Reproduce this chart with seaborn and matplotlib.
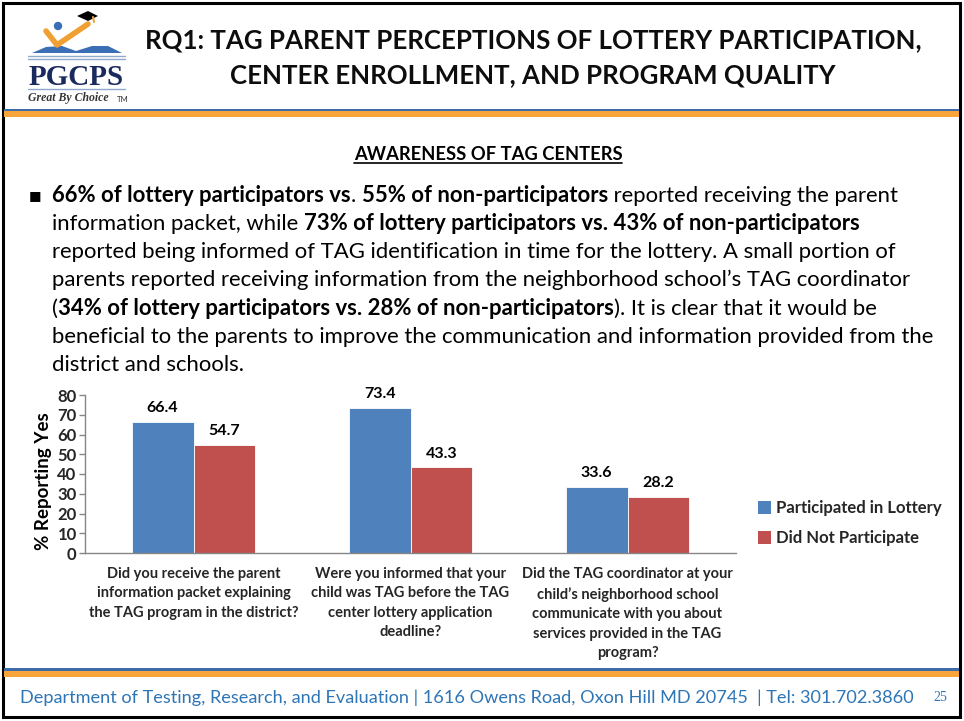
import numpy as np
import pandas as pd
import matplotlib
matplotlib.use("Agg")
import matplotlib.pyplot as plt
import seaborn as sns
from matplotlib.patches import Rectangle, Circle, Polygon, Patch

# chart data
questions = [
    "Did you receive the parent\ninformation packet explaining\nthe TAG program in the district?",
    "Were you informed that your\nchild was TAG before the TAG\ncenter lottery application\ndeadline?",
    "Did the TAG coordinator at your\nchild\u2019s neighborhood school\ncommunicate with you about\nservices provided in the TAG\nprogram?",
]
groups = ["Participated in Lottery", "Did Not Participate"]
participated = [66.4, 73.4, 33.6]
not_participated = [54.7, 43.3, 28.2]
y_ticks = [0, 10, 20, 30, 40, 50, 60, 70, 80]

title_lines = [
    "RQ1: TAG PARENT PERCEPTIONS OF LOTTERY PARTICIPATION,",
    "CENTER ENROLLMENT, AND PROGRAM QUALITY",
]
heading = "AWARENESS OF TAG CENTERS"
# (text, bold) pieces per line of the bullet paragraph
body_lines = [
    [("66% of lottery participators vs", True), (". ", False),
     ("55% of non-participators", True), (" reported receiving the parent", False)],
    [("information packet, while ", False),
     ("73% of lottery participators vs. 43% of non-participators", True)],
    [("reported being informed of TAG identification in time for the lottery. A small portion of", False)],
    [("parents reported receiving information from the neighborhood school\u2019s TAG coordinator", False)],
    [("(", False), ("34% of lottery participators vs. 28% of non-participators", True),
     ("). It is clear that it would be", False)],
    [("beneficial to the parents to improve the communication and information provided from the", False)],
    [("district and schools.", False)],
]
footer = "Department of Testing, Research, and Evaluation | 1616 Owens Road, Oxon Hill MD 20745  | Tel: 301.702.3860"
page_no = "25"

BLUE = "#4F81BD"
RED = "#C0504D"
NAVY = "#1B2A5E"
FOOT_BLUE = "#2E75B6"
ORANGE = "#F7A43B"
BAND_BLUE = "#3E6CA8"

sns.set_theme(style="white")
plt.rcParams["font.family"] = ["Lato", "DejaVu Sans"]

fig = plt.figure(figsize=(9.64, 7.21), dpi=100)
fig.patch.set_facecolor("white")

# slide decoration layer in pixel coordinates
deco = fig.add_axes([0, 0, 1, 1], zorder=0)
deco.set_xlim(0, 964)
deco.set_ylim(721, 0)
deco.axis("off")

# frame and coloured bands
deco.add_patch(Rectangle((3, 3), 957, 714, fill=False, edgecolor="black", linewidth=2.2))
deco.add_patch(Rectangle((4, 108.5), 955, 2.5, color=BAND_BLUE, lw=0))
deco.add_patch(Rectangle((4, 111), 955, 6, color=ORANGE, lw=0))
deco.add_patch(Rectangle((4, 667.5), 955, 3, color=BAND_BLUE, lw=0))
deco.add_patch(Rectangle((4, 670.5), 955, 6.5, color=ORANGE, lw=0))

# logo (rough sketch)
deco.add_patch(Polygon([(77, 16), (88, 11), (98, 16), (88, 21)], color="black", lw=0))
deco.plot([93, 94], [17, 22], color="#E8A33A", lw=1.5)
deco.add_patch(Circle((58, 26), 4.2, color="#3A6FB5", lw=0))
deco.plot([46, 57, 88], [31, 45, 24], color="#F0A032", lw=4, solid_capstyle="round")
deco.add_patch(Polygon([(32, 53), (46, 47), (62, 46), (76, 51), (76, 53)], color="#3A6FB5", lw=0))
deco.add_patch(Polygon([(76, 53), (76, 51), (92, 46), (108, 46), (122, 53)], color="#3A6FB5", lw=0))
deco.plot([28, 125], [56, 56], color="#8FA8CC", lw=1)
deco.plot([28, 125], [58.5, 58.5], color="#8FA8CC", lw=1)
deco.text(76, 85, "PGCPS", ha="center", va="baseline", fontsize=21, fontweight="bold",
          family=["Liberation Serif", "DejaVu Serif"], color=NAVY)
deco.plot([28, 125], [88.5, 88.5], color="#8FA8CC", lw=1)
deco.text(28, 101, "Great By Choice", ha="left", va="baseline", fontsize=8.5, fontweight="bold",
          fontstyle="italic", family=["Liberation Serif", "DejaVu Serif"], color="#333333")
deco.text(117, 102, "TM", ha="left", va="baseline", fontsize=5.5, color="#333333")

# title
title_font = ["Lato", "DejaVu Sans"]
deco.text(533, 40, title_lines[0], ha="center", va="center", fontsize=18.6,
          fontweight="bold", family=title_font, color="#0D0D0D")
deco.text(533, 75, title_lines[1], ha="center", va="center", fontsize=18.6,
          fontweight="bold", family=title_font, color="#0D0D0D")

# section heading, underlined
head = deco.text(488, 160, heading, ha="center", va="baseline", fontsize=13.2,
                 fontweight="bold", color="black")

# bullet paragraph with mixed weights
deco.text(29, 199, "\u25a0", ha="left", va="baseline", fontsize=9.5,
          family="DejaVu Sans", color="black")
for i, pieces in enumerate(body_lines):
    base = 201.5 + 28.3 * i
    prev = None
    for txt, bold in pieces:
        w = "bold" if bold else "normal"
        if prev is None:
            prev = deco.text(52, base, txt, ha="left", va="baseline", fontsize=15.9,
                             fontweight=w, color="black")
        else:
            prev = deco.annotate(txt, xy=(1, 0), xycoords=prev, ha="left", va="bottom",
                                 fontsize=15.9, fontweight=w, color="black")

# footer
deco.text(20, 703, footer, ha="left", va="baseline", fontsize=13.05, color=FOOT_BLUE)
deco.text(940, 701, page_no, ha="center", va="baseline", fontsize=10,
          family=["Liberation Serif", "DejaVu Serif"], color=FOOT_BLUE)

# bar chart
df = pd.DataFrame({
    "question": questions * 2,
    "group": [groups[0]] * 3 + [groups[1]] * 3,
    "pct": participated + not_participated,
})

ax = fig.add_axes([85 / 964, 1 - 553 / 721, 651 / 964, 158 / 721], zorder=1)
ax.patch.set_alpha(0)
sns.barplot(data=df, x="question", y="pct", hue="group", order=questions, hue_order=groups,
            palette=[BLUE, RED], saturation=1, width=0.57, ax=ax, legend=False,
            edgecolor="white", linewidth=0.6, err_kws={"linewidth": 0})
for cont in ax.containers:
    ax.bar_label(cont, fmt="%.1f", padding=5, fontsize=11.5, fontweight="bold", color="black")

ax.set_xlim(-0.5, 2.5)
ax.set_ylim(0, 80)
ax.set_yticks(y_ticks)
ax.set_xlabel("")
ax.set_ylabel("% Reporting Yes", fontsize=13.5, fontweight="bold", color="black")
ax.yaxis.set_label_coords(-0.05, 0.456)
sns.despine(ax=ax)
for side in ["left", "bottom"]:
    ax.spines[side].set_color("#868686")
    ax.spines[side].set_linewidth(1)
ax.tick_params(axis="y", length=4, width=1, color="#868686", pad=2, labelsize=12, left=True)
ax.tick_params(axis="x", length=0, pad=10, labelsize=10.5)
for lbl in ax.get_yticklabels():
    lbl.set_fontweight("bold")
for lbl in ax.get_xticklabels():
    lbl.set_fontweight("bold")
    lbl.set_linespacing(1.5)
    lbl.set_verticalalignment("top")

handles = [Patch(facecolor=BLUE, edgecolor="none"), Patch(facecolor=RED, edgecolor="none")]
ax.legend(handles, groups, loc="center left", bbox_to_anchor=(758 / 964, 1 - 523 / 721),
          bbox_transform=fig.transFigure, frameon=False, handlelength=0.8, handleheight=0.8,
          handletextpad=0.3, labelspacing=0.85, borderaxespad=0, borderpad=0,
          prop={"weight": "bold", "size": 12})

fig.canvas.draw()
bb = head.get_window_extent().transformed(deco.transData.inverted())
deco.plot([bb.x0, bb.x1], [162.5, 162.5], color="black", lw=1.2)

fig.savefig("out.png", dpi=100)
